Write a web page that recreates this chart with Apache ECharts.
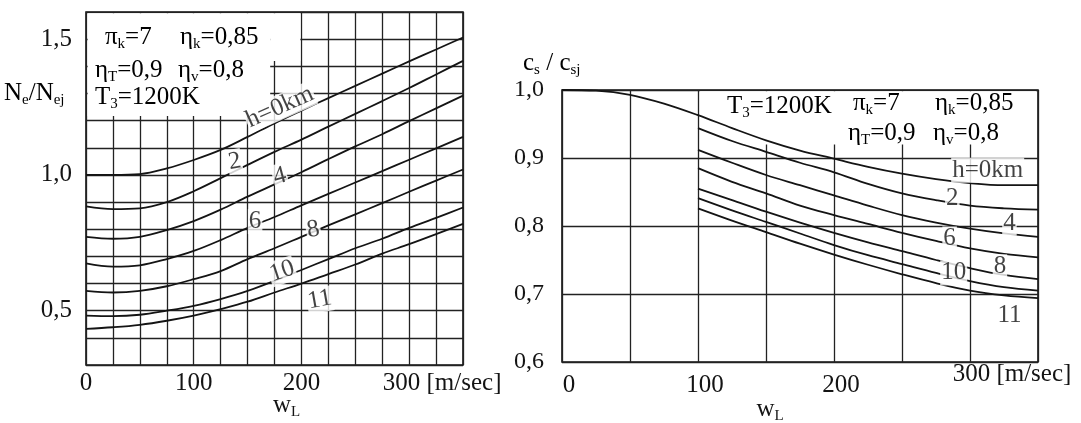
<!DOCTYPE html>
<html><head><meta charset="utf-8">
<script src="https://cdn.jsdelivr.net/npm/echarts@6/dist/echarts.min.js"></script>
<style>html,body{margin:0;padding:0;background:#fff}#c{width:1081px;height:423px}</style>
</head><body><div id="c"></div>
<script>
const FONT = '"Liberation Serif","DejaVu Serif",serif';
const INK = '#141414';

// ---------- Left chart: Ne/Nej over wL ----------
const leftW   = [0, 25, 50, 75, 100, 125, 150, 175, 200, 225, 250, 275, 300, 325, 350];
const leftH0  = [1.000, 1.000, 1.003, 1.024, 1.055, 1.092, 1.140, 1.190, 1.237, 1.283, 1.328, 1.373, 1.418, 1.462, 1.506];
const leftH2  = [0.884, 0.874, 0.877, 0.900, 0.940, 0.988, 1.037, 1.085, 1.130, 1.178, 1.225, 1.272, 1.320, 1.370, 1.420];
const leftH4  = [0.772, 0.765, 0.772, 0.797, 0.830, 0.872, 0.920, 0.965, 1.010, 1.058, 1.105, 1.150, 1.198, 1.245, 1.292];
const leftH6  = [0.674, 0.662, 0.667, 0.690, 0.720, 0.760, 0.805, 0.845, 0.888, 0.930, 0.972, 1.014, 1.056, 1.098, 1.140];
const leftH8  = [0.573, 0.567, 0.573, 0.590, 0.616, 0.646, 0.690, 0.730, 0.772, 0.814, 0.855, 0.896, 0.938, 0.979, 1.020];
const leftH10 = [0.482, 0.480, 0.485, 0.500, 0.518, 0.543, 0.573, 0.610, 0.650, 0.690, 0.730, 0.765, 0.805, 0.842, 0.880];
const leftH11 = [0.433, 0.439, 0.448, 0.463, 0.482, 0.506, 0.533, 0.567, 0.600, 0.635, 0.670, 0.710, 0.745, 0.782, 0.820];
const leftCurves = [leftH0, leftH2, leftH4, leftH6, leftH8, leftH10, leftH11];
const leftXTicks = [0, 100, 200, 300];
const leftYTicks = [0.5, 1.0, 1.5];
const leftLabelText = ['h=0km', '2', '4', '6', '8', '10', '11'];
const leftLabelW    = [180, 138, 180, 157, 211, 182, 217];
const leftLabelV    = [1.25, 1.049, 0.995, 0.828, 0.798, 0.645, 0.54];
const leftLabelRot  = [24, 10, 15, 0, 10, 18, 10];

// ---------- Right chart: cs/csj over wL ----------
const rightW0  = [0, 25, 50, 75, 100, 125, 150, 175, 200, 225, 250, 275, 300, 325, 350];
const rightH0  = [1.000, 0.999, 0.993, 0.980, 0.963, 0.944, 0.926, 0.911, 0.899, 0.887, 0.877, 0.869, 0.863, 0.860, 0.860];
const rightW   = [100, 125, 150, 175, 200, 225, 250, 275, 300, 325, 350];
const rightH2  = [0.944, 0.925, 0.909, 0.893, 0.879, 0.862, 0.848, 0.838, 0.830, 0.826, 0.824];
const rightH4  = [0.912, 0.893, 0.875, 0.860, 0.845, 0.830, 0.816, 0.805, 0.796, 0.789, 0.784];
const rightH6  = [0.885, 0.865, 0.848, 0.830, 0.816, 0.803, 0.790, 0.778, 0.767, 0.759, 0.754];
const rightH8  = [0.855, 0.838, 0.821, 0.805, 0.790, 0.776, 0.763, 0.750, 0.738, 0.728, 0.722];
const rightH10 = [0.841, 0.823, 0.806, 0.789, 0.772, 0.757, 0.744, 0.731, 0.719, 0.710, 0.705];
const rightH11 = [0.826, 0.808, 0.791, 0.774, 0.758, 0.743, 0.729, 0.716, 0.705, 0.698, 0.694];
const rightCurves = [rightH2, rightH4, rightH6, rightH8, rightH10, rightH11];
const rightXTicks = [0, 100, 200];
const rightYTicks = [0.6, 0.7, 0.8, 0.9, 1.0];
const rightLabelText = ['h=0km', '2', '4', '6', '8', '10', '11'];
const rightLabelW    = [313, 287, 329, 285, 322, 288, 329];
const rightLabelV    = [0.882, 0.841, 0.804, 0.781, 0.740, 0.731, 0.669];

// ---------- helpers ----------
const rich = {
  t: {fontFamily: FONT, fontSize: 25, lineHeight: 30, color: INK},
  s: {fontFamily: FONT, fontSize: 15, lineHeight: 15, verticalAlign: 'bottom', color: INK},
  p: {width: 66},
  q: {width: 84},
  r: {width: 14}
};
const sub = (a, b, c) => `{t|${a}}{s|${b}}{t|${c || ''}}`;
const has = (arr, v) => arr.some(t => Math.abs(t - v) < 1e-6);
const comma = v => v.toFixed(1).replace('.', ',');

function lineSeries(xs, ys, gi) {
  return {
    type: 'line', xAxisIndex: gi, yAxisIndex: gi, data: xs.map((x, i) => [x, ys[i]]),
    smooth: 0.35, symbol: 'none', silent: true, z: 3,
    lineStyle: {color: INK, width: 1.8}
  };
}
function labelSeries(texts, ws, vs, rots, gi) {
  return {
    type: 'scatter', xAxisIndex: gi, yAxisIndex: gi, z: 6, silent: true,
    symbol: 'circle', symbolSize: 1, itemStyle: {color: 'rgba(0,0,0,0)'},
    data: texts.map((t, i) => ({name: t, value: [ws[i], vs[i]], label: {rotate: rots ? rots[i] : 0}})),
    label: {show: true, position: 'inside', formatter: p => p.name,
      fontFamily: FONT, fontSize: 25, color: INK, backgroundColor: '#fff', padding: [0, 1]}
  };
}
function blankSeries(areas, gi) {
  return {
    type: 'line', xAxisIndex: gi, yAxisIndex: gi, data: [], z: 1, silent: true,
    markArea: {silent: true, itemStyle: {color: '#fff', borderWidth: 0},
      data: areas.map(a => [{coord: [a[0], a[1]]}, {coord: [a[2], a[3]]}])}
  };
}
const split = {show: true, lineStyle: {color: '#222', width: 1.3}};
const txt = (x, y, text) => ({type: 'text', x: x, y: y, z: 100,
  style: {text: text, rich: rich, verticalAlign: 'middle'}});

const option = {
  animation: false,
  backgroundColor: '#fff',
  grid: [
    {left: 86, top: 12, width: 377, height: 353, show: true, borderColor: INK, borderWidth: 1.6,
      containLabel: false, outerBoundsMode: 'none'},
    {left: 562, top: 90, width: 476, height: 272, show: true, borderColor: INK, borderWidth: 1.6,
      containLabel: false, outerBoundsMode: 'none'}
  ],
  xAxis: [
    {type: 'value', gridIndex: 0, min: 0, max: 350, interval: 25,
      axisLine: {show: false}, axisTick: {show: false}, splitLine: split,
      axisLabel: {margin: 3, rich: rich, formatter: v => !has(leftXTicks, v) ? '' :
        (v === 300 ? '{p|}{t|300 [m/sec]}' : '{t|' + v + '}')},
      name: sub('w', 'L'), nameLocation: 'middle', nameGap: 25, nameMoveOverlap: false,
      nameTextStyle: {rich: rich, padding: [0, 0, 0, 24]}},
    {type: 'value', gridIndex: 1, min: 0, max: 350, interval: 50,
      axisLine: {show: false}, axisTick: {show: false}, splitLine: split,
      axisLabel: {margin: 8, rich: rich, formatter: v => !has(rightXTicks, v) ? '' : '{r|}{t|' + v + '}'},
      name: sub('w', 'L'), nameLocation: 'middle', nameGap: 32, nameMoveOverlap: false,
      nameTextStyle: {rich: rich, padding: [0, 60, 0, 0]}},
    {type: 'value', gridIndex: 1, min: 0, max: 350, interval: 50, position: 'bottom',
      axisLine: {show: false}, axisTick: {show: false}, splitLine: {show: false},
      axisLabel: {margin: -3, rich: rich, formatter: v => v === 300 ? '{q|}{t|300 [m/sec]}' : ''}}
  ],
  yAxis: [
    {type: 'value', gridIndex: 0, min: 0.3, max: 1.6, interval: 0.1,
      axisLine: {show: false}, axisTick: {show: false}, splitLine: split,
      axisLabel: {margin: 14, fontFamily: FONT, fontSize: 25, color: INK,
        formatter: v => has(leftYTicks, v) ? comma(v) : ''}},
    {type: 'value', gridIndex: 1, min: 0.6, max: 1.0, interval: 0.1,
      axisLine: {show: false}, axisTick: {show: false}, splitLine: split,
      axisLabel: {margin: 18, fontFamily: FONT, fontSize: 24, color: INK,
        formatter: v => has(rightYTicks, v) ? comma(v) : ''}}
  ],
  series: [
    blankSeries([[1.5, 1.217, 171, 1.595], [171, 1.42, 199, 1.595]], 0),
    blankSeries([[101.5, 0.92, 348.5, 0.998]], 1),
    ...leftCurves.map(c => lineSeries(leftW, c, 0)),
    lineSeries(rightW0, rightH0, 1),
    ...rightCurves.map(c => lineSeries(rightW, c, 1)),
    labelSeries(leftLabelText, leftLabelW, leftLabelV, leftLabelRot, 0),
    labelSeries(rightLabelText, rightLabelW, rightLabelV, null, 1)
  ],
  graphic: [
    txt(4, 93, sub('N', 'e', '/') + sub('N', 'ej')),
    txt(523, 63, sub('c', 's', ' / ') + sub('c', 'sj')),
    txt(105, 37, sub('π', 'k', '=7')),
    txt(180, 37, sub('η', 'k', '=0,85')),
    txt(95, 70, sub('η', 'T', '=0,9')),
    txt(178, 70, sub('η', 'v', '=0,8')),
    txt(95, 97, sub('T', '3', '=1200K')),
    txt(727, 106, sub('T', '3', '=1200K')),
    txt(853, 103, sub('π', 'k', '=7')),
    txt(935, 103, sub('η', 'k', '=0,85')),
    txt(848, 133, sub('η', 'T', '=0,9')),
    txt(933, 133, sub('η', 'v', '=0,8'))
  ]
};
const chart = echarts.init(document.getElementById('c'), null, {renderer: 'canvas'});
chart.setOption(option);
</script></body></html>
